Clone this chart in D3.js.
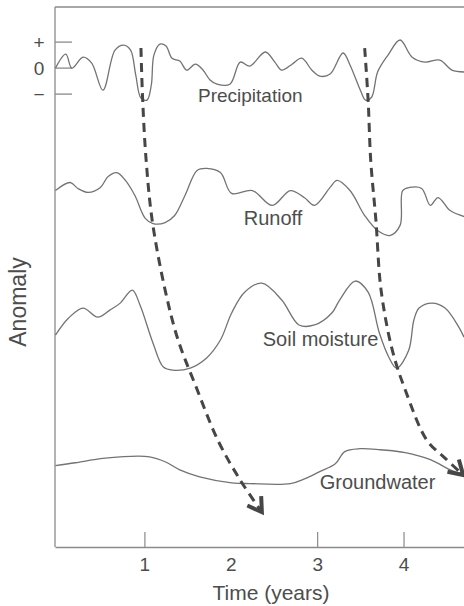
<!DOCTYPE html>
<head>
  <meta charset="utf-8">
  <script src="https://d3js.org/d3.v7.min.js"></script>
  <style>
    body { margin:0; background:#fff; }
    text { font-family: "Liberation Sans", Arial, sans-serif; fill:#4d4d4d; }
  </style>
</head>
<body>
<svg width="464" height="606"></svg>
<script>

// time in years, anomaly in arbitrary units
const precipYears = [-0.03,0.09,0.16,0.29,0.39,0.52,0.66,0.76,0.84,0.90,0.96,1.03,1.08,1.11,1.18,1.25,1.32,1.41,1.49,1.59,1.68,1.76,1.84,1.99,2.11,2.22,2.40,2.51,2.59,2.71,2.82,2.94,3.03,3.15,3.30,3.38,3.50,3.56,3.63,3.70,3.82,3.96,4.10,4.25,4.42,4.56,4.70]
const precipVals  = [0,0.54,0,0.42,0.19,-0.85,0.69,0.88,0.69,-0.27,-1.15,-1.23,-0.65,0.5,0.92,0.85,0.38,0.27,-0.08,0.15,-0.08,-0.46,-0.62,-0.62,0.23,0.08,0.62,0.23,-0.08,0.15,0.38,-0.08,-0.31,-0.23,0.58,0.12,-0.85,-1.23,-1.12,-0.15,0.5,1.08,0.42,0.23,0.31,-0.08,-0.15]

const runoffYears = [-0.03,0.14,0.23,0.35,0.49,0.58,0.68,0.78,0.89,1.01,1.10,1.24,1.35,1.47,1.61,1.72,1.88,2.01,2.25,2.48,2.69,2.85,2.97,3.15,3.23,3.38,3.55,3.70,3.84,3.96,3.99,4.07,4.21,4.31,4.40,4.54,4.70]
const runoffVals  = [0.19,0.5,0.27,0.12,0.31,0.73,0.88,0.58,0,-0.88,-1.08,-1.04,-0.77,0,0.96,1.04,0.88,0.08,0.19,-0.38,0.19,-0.08,-0.38,0.31,0.58,0.19,-0.77,-1.35,-1.54,-1.15,0.19,0.31,0.27,-0.38,-0.08,-0.58,-0.81]

const soilYears = [-0.03,0.12,0.29,0.46,0.60,0.72,0.86,0.95,1.10,1.22,1.33,1.53,1.72,1.88,2.01,2.16,2.36,2.59,2.79,2.97,3.17,3.26,3.44,3.59,3.72,3.83,3.92,4.06,4.12,4.18,4.33,4.48,4.64,4.70]
const soilVals  = [-0.27,0.38,0.77,0.42,0.69,0.96,1.46,0.88,-0.58,-1.5,-1.62,-1.54,-1.15,-0.46,0.58,1.38,1.73,1.08,0.12,0.12,0.58,1.08,1.81,1.38,-0.19,-1.12,-1.54,-0.85,0.31,0.77,0.96,0.77,0.04,-0.35]

const gwYears = [-0.03,0.20,0.49,0.72,1.06,1.24,1.41,1.64,2.01,2.22,2.69,2.86,3.03,3.21,3.32,3.50,3.73,4.02,4.31,4.54,4.70]
const gwVals  = [0.31,0.42,0.58,0.65,0.65,0.46,0.15,-0.12,-0.35,-0.38,-0.38,-0.19,0.08,0.38,0.85,0.96,0.92,0.81,0.54,0.15,-0.04]

const seriesNames   = ["Precipitation","Runoff","Soil moisture","Groundwater"]
const seriesOffsets = [0, -4.9, -10, -15.6]

// dashed lag arrows, in (year, stacked anomaly) units
const lag1Years = [0.96,0.98,1.02,1.09,1.24,1.39,1.59,1.85,2.11,2.36]
const lag1Vals  = [0.77,-1.23,-3.54,-5.85,-8.54,-10.46,-12.19,-14.31,-15.85,-17.08]
const lag2Years = [3.55,3.59,3.62,3.68,3.74,3.87,4.02,4.27,4.48,4.69]
const lag2Vals  = [0.77,-1.23,-3.54,-5.85,-8.54,-10.85,-12.38,-14.31,-15.0,-15.65]

const xTicks = [1,2,3,4]
const yMarks = [{v:1, t:"+"}, {v:0, t:"0"}, {v:-1, t:"\u2212"}]

const svg = d3.select("svg")
const x = d3.scaleLinear().domain([-0.035, 4.70]).range([55, 464])
const y = d3.scaleLinear().domain([-18.42, 2.35]).range([547, 7])

const line = d3.line().x(d => x(d[0])).y(d => y(d[1])).curve(d3.curveCatmullRom)

const frame = "#8a8a8a"
// top frame and left axis
svg.append("line").attr("x1", x.range()[0]).attr("x2", x.range()[1])
  .attr("y1", y.range()[1]).attr("y2", y.range()[1]).attr("stroke", frame).attr("stroke-width", 1.3)
svg.append("line").attr("x1", x.range()[0]).attr("x2", x.range()[0])
  .attr("y1", y.range()[0]).attr("y2", y.range()[1]).attr("stroke", frame).attr("stroke-width", 1.3)

// bottom axis, ticks pointing up
const xAxis = svg.append("g").attr("transform", `translate(0,${y.range()[0]})`)
  .call(d3.axisBottom(x).tickValues(xTicks).tickFormat(d3.format("d")).tickSizeInner(-15).tickSizeOuter(0).tickPadding(11))
xAxis.select(".domain").attr("stroke", frame).attr("stroke-width", 1.3)
xAxis.selectAll(".tick line").attr("stroke", frame).attr("stroke-width", 1.2)
xAxis.selectAll(".tick").filter(d => d === 2).select("line").remove()
xAxis.selectAll(".tick text").attr("font-size", 19).attr("fill", "#4d4d4d")
  .style("font-family", '"Liberation Sans", Arial, sans-serif')

// anomaly marks on the precipitation trace
svg.selectAll(".ymark").data(yMarks).enter().append("line")
  .attr("x1", x.range()[0]).attr("x2", x.range()[0] + 17)
  .attr("y1", d => y(d.v)).attr("y2", d => y(d.v))
  .attr("stroke", frame).attr("stroke-width", 1.3)
svg.selectAll(".ylab").data(yMarks).enter().append("text")
  .attr("x", 39).attr("y", d => y(d.v)).attr("dy", "0.36em")
  .attr("text-anchor", "middle").attr("font-size", 19).text(d => d.t)

// series
const allYears = [precipYears, runoffYears, soilYears, gwYears]
const allVals  = [precipVals, runoffVals, soilVals, gwVals]
allYears.forEach((yrs, i) => {
  const pts = yrs.map((t, j) => [t, allVals[i][j] + seriesOffsets[i]])
  svg.append("path").attr("d", line(pts)).attr("fill", "none")
    .attr("stroke", "#737373").attr("stroke-width", 1.3)
})

// series labels: [year of left edge, anomaly of centre, font size]
const labelPos = [[1.62, -1.05, 19], [2.15, -5.75, 20], [2.37, -10.4, 20], [3.03, -15.9, 20]]
svg.selectAll(".slab").data(seriesNames).enter().append("text")
  .attr("x", (d, i) => x(labelPos[i][0]))
  .attr("y", (d, i) => y(labelPos[i][1]))
  .attr("dy", "0.36em")
  .attr("font-size", (d, i) => labelPos[i][2])
  .text(d => d)

// lag arrows
const dark = "#464646"
;[[lag1Years, lag1Vals], [lag2Years, lag2Vals]].forEach(([yrs, vals]) => {
  const pts = yrs.map((t, j) => [t, vals[j]])
  svg.append("path").attr("d", line(pts)).attr("fill", "none")
    .attr("stroke", dark).attr("stroke-width", 3).attr("stroke-dasharray", "9,6")
  const n = pts.length
  const tx = x(pts[n-1][0]), ty = y(pts[n-1][1])
  const px = x(pts[n-2][0]), py = y(pts[n-2][1])
  const ang = Math.atan2(ty - py, tx - px) + Math.PI
  const L = 16, spread = 0.55
  const a1 = [tx + L*Math.cos(ang - spread), ty + L*Math.sin(ang - spread)]
  const a2 = [tx + L*Math.cos(ang + spread), ty + L*Math.sin(ang + spread)]
  svg.append("path")
    .attr("d", `M${a1[0]},${a1[1]}L${tx},${ty}L${a2[0]},${a2[1]}`)
    .attr("fill", "none").attr("stroke", dark).attr("stroke-width", 4)
    .attr("stroke-linejoin", "miter")
})

// axis titles
svg.append("text").attr("x", 271).attr("y", 600).attr("text-anchor", "middle")
  .attr("font-size", 21).text("Time (years)")
svg.append("text").attr("transform", "translate(26,302) rotate(-90)")
  .attr("text-anchor", "middle").attr("font-size", 23).text("Anomaly")

</script>
</body>
